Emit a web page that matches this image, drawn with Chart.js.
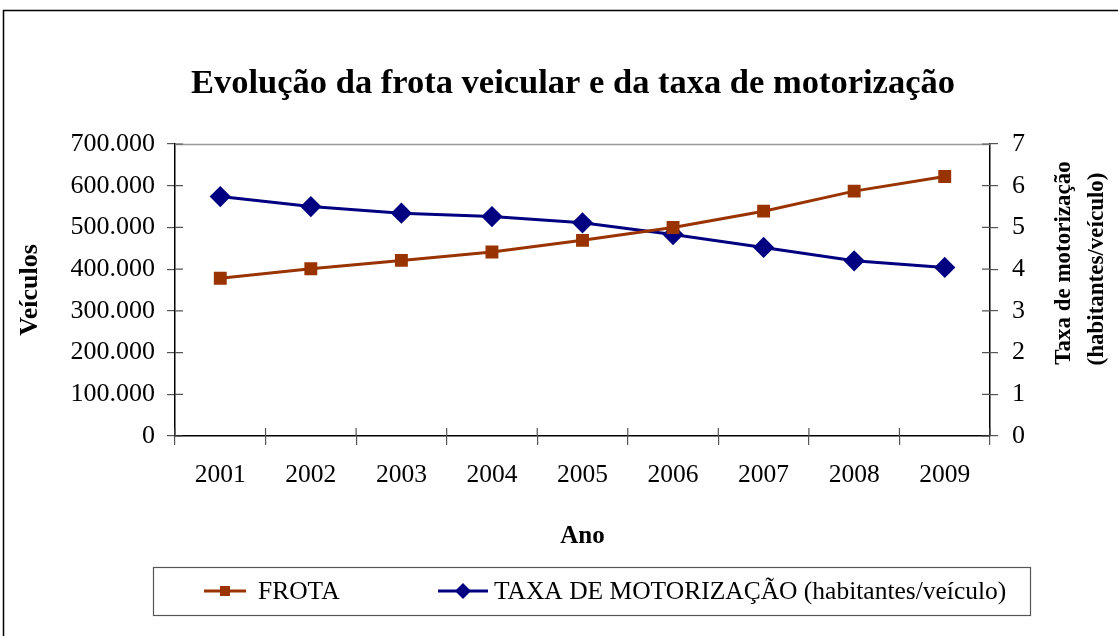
<!DOCTYPE html>
<html lang="pt">
<head>
  <meta charset="UTF-8">
  <title>Evolução da frota veicular</title>
  <script src="https://cdn.jsdelivr.net/npm/chart.js"></script>
  <style>
    body { margin: 0; background: #fff; }
    #wrap { width: 1118px; height: 636px; }
  </style>
</head>
<body>
  <div id="wrap"><canvas id="chart" width="1118" height="636"></canvas></div>
  <script>
    const anos = ['2001', '2002', '2003', '2004', '2005', '2006', '2007', '2008', '2009'];
    const frota = [378000, 401000, 421000, 441000, 469000, 500000, 539000, 587000, 622000];
    const taxa = [5.74, 5.50, 5.34, 5.26, 5.11, 4.83, 4.52, 4.20, 4.04];
    const veicTicks = [0, 100000, 200000, 300000, 400000, 500000, 600000, 700000];
    const taxaTicks = [0, 1, 2, 3, 4, 5, 6, 7];

    const serif = "'Liberation Serif', 'Times New Roman', serif";
    const corFrota = '#993300';
    const corTaxa = '#000080';

    function fmt(v) {
      return v === 0 ? '0' : v.toLocaleString('de-DE');
    }

    // moldura, titulo, legenda e marcas que cruzam o eixo
    const extras = {
      id: 'extras',
      beforeDraw(chart) {
        const ctx = chart.ctx;
        ctx.save();
        ctx.strokeStyle = '#000';
        ctx.lineWidth = 1.5;
        ctx.strokeRect(3.5, 10.5, 1300, 800);
        ctx.restore();
      },
      afterDraw(chart) {
        const ctx = chart.ctx;
        const a = chart.chartArea;
        const x = chart.scales.x, y = chart.scales.y, y2 = chart.scales.y2;
        ctx.save();
        // topo da area do grafico
        ctx.strokeStyle = '#999';
        ctx.lineWidth = 1.5;
        ctx.beginPath();
        ctx.moveTo(a.left, a.top + 0.5);
        ctx.lineTo(a.right, a.top + 0.5);
        ctx.stroke();
        // marcas para dentro
        ctx.strokeStyle = '#555';
        ctx.lineWidth = 1.2;
        ctx.beginPath();
        veicTicks.forEach(v => {
          const py = y.getPixelForValue(v);
          ctx.moveTo(a.left, py); ctx.lineTo(a.left + 8, py);
        });
        taxaTicks.forEach(v => {
          const py = y2.getPixelForValue(v);
          ctx.moveTo(a.right, py); ctx.lineTo(a.right - 8, py);
        });
        for (let i = 0; i <= anos.length; i++) {
          const px = x.getPixelForValue(i) - (x.getPixelForValue(1) - x.getPixelForValue(0)) / 2;
          ctx.moveTo(px, a.bottom); ctx.lineTo(px, a.bottom - 8);
        }
        ctx.stroke();

        // titulo
        ctx.fillStyle = '#000';
        ctx.textAlign = 'center';
        ctx.textBaseline = 'middle';
        ctx.font = 'bold 34.5px ' + serif;
        ctx.fillText('Evolução da frota veicular e da taxa de motorização', 573, 84);

        // titulo do eixo direito
        ctx.font = 'bold 23px ' + serif;
        ctx.save();
        ctx.translate(1064, 263);
        ctx.rotate(-Math.PI / 2);
        ctx.fillText('Taxa de motorização', 0, 0);
        ctx.restore();
        ctx.save();
        ctx.translate(1097, 269);
        ctx.rotate(-Math.PI / 2);
        ctx.fillText('(habitantes/veículo)', 0, 0);
        ctx.restore();

        // legenda
        ctx.strokeStyle = '#555';
        ctx.lineWidth = 1.2;
        ctx.strokeRect(153.5, 567.5, 877, 48);
        const ly = 591;
        const itens = [
          { ds: chart.data.datasets[0], x0: 204, x1: 246, tx: 258 },
          { ds: chart.data.datasets[1], x0: 438, x1: 488, tx: 494 }
        ];
        itens.forEach(it => {
          ctx.strokeStyle = it.ds.borderColor;
          ctx.lineWidth = 3;
          ctx.beginPath();
          ctx.moveTo(it.x0, ly); ctx.lineTo(it.x1, ly);
          ctx.stroke();
          ctx.fillStyle = it.ds.backgroundColor;
          const cx = (it.x0 + it.x1) / 2;
          if (it.ds.pointStyle === 'rect') {
            ctx.fillRect(cx - 5, ly - 5, 10, 10);
          } else {
            ctx.beginPath();
            ctx.moveTo(cx, ly - 8); ctx.lineTo(cx + 8, ly); ctx.lineTo(cx, ly + 8); ctx.lineTo(cx - 8, ly);
            ctx.closePath();
            ctx.fill();
          }
          ctx.fillStyle = '#000';
          ctx.textAlign = 'left';
          ctx.font = '25.5px ' + serif;
          ctx.fillText(it.ds.label, it.tx, ly + 1);
        });
        ctx.restore();
      }
    };

    new Chart(document.getElementById('chart'), {
      type: 'line',
      data: {
        labels: anos,
        datasets: [
          {
            label: 'FROTA',
            data: frota,
            yAxisID: 'y',
            borderColor: corFrota,
            backgroundColor: corFrota,
            borderWidth: 3,
            pointStyle: 'rect',
            pointRadius: 7,
            pointHoverRadius: 7,
            tension: 0
          },
          {
            label: 'TAXA DE MOTORIZAÇÃO (habitantes/veículo)',
            data: taxa,
            yAxisID: 'y2',
            borderColor: corTaxa,
            backgroundColor: corTaxa,
            borderWidth: 3,
            pointStyle: 'rectRot',
            pointRadius: 8.5,
            pointHoverRadius: 8.5,
            tension: 0
          }
        ]
      },
      options: {
        responsive: false,
        animation: false,
        layout: { padding: { top: 144, left: 0, right: 0, bottom: 0 } },
        plugins: {
          legend: { display: false },
          title: { display: false },
          tooltip: { enabled: false }
        },
        scales: {
          x: {
            offset: true,
            grid: { offset: true, drawOnChartArea: false, tickLength: 9, color: '#555', lineWidth: 1.2 },
            border: { color: '#000', width: 1.5 },
            ticks: { color: '#000', font: { family: serif, size: 25.5 }, padding: 15, maxRotation: 0 },
            title: { display: true, text: 'Ano', color: '#000', font: { family: serif, size: 25, weight: 'bold' }, padding: { top: 0, bottom: 84 } },
            afterFit(s) { s.height = 200; }
          },
          y: {
            position: 'left',
            min: 0,
            max: 700000,
            afterBuildTicks(s) { s.ticks = veicTicks.map(v => ({ value: v })); },
            grid: { drawOnChartArea: false, tickLength: 8, color: '#555', lineWidth: 1.2 },
            border: { color: '#000', width: 1.5 },
            ticks: { color: '#000', font: { family: serif, size: 26 }, padding: 12, callback: v => fmt(v) },
            title: { display: true, text: 'Veículos', color: '#000', font: { family: serif, size: 26, weight: 'bold' }, padding: { top: 15, bottom: 0 } },
            afterFit(s) { s.width = 175; }
          },
          y2: {
            position: 'right',
            min: 0,
            max: 7,
            afterBuildTicks(s) { s.ticks = taxaTicks.map(v => ({ value: v })); },
            grid: { drawOnChartArea: false, tickLength: 8, color: '#555', lineWidth: 1.2 },
            border: { color: '#000', width: 1.5 },
            ticks: { color: '#000', font: { family: serif, size: 26 }, padding: 14 },
            afterFit(s) { s.width = 128; }
          }
        }
      },
      plugins: [extras]
    });
  </script>
</body>
</html>
